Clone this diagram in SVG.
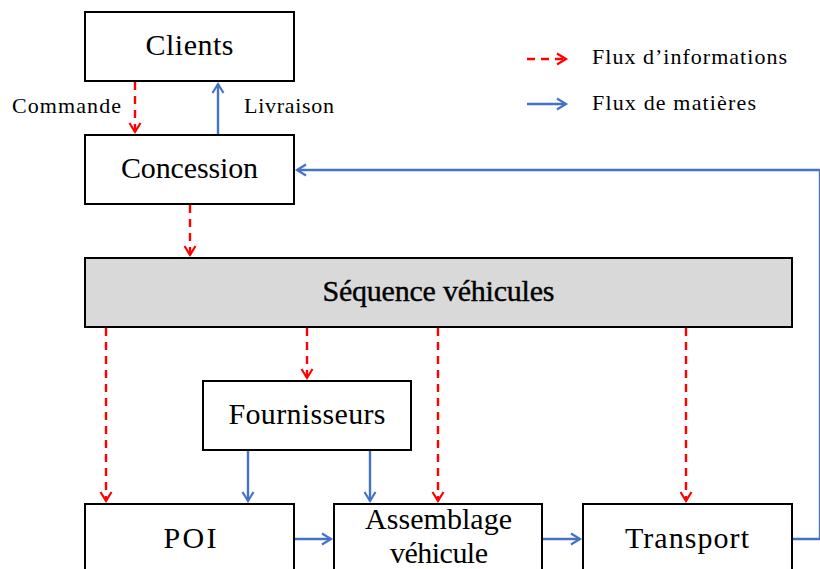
<svg xmlns="http://www.w3.org/2000/svg" width="820" height="569" viewBox="0 0 820 569">
<defs>
<style>
.box{fill:#fff;stroke:#000;stroke-width:2}
.seq{fill:#d9d9d9;stroke:#000;stroke-width:2}
.t{font-family:"Liberation Serif","DejaVu Serif",serif;font-size:30px;fill:#000;text-anchor:middle}
.s{font-family:"Liberation Serif","DejaVu Serif",serif;font-size:22px;fill:#000}
.info{fill:none;stroke:#ff0000;stroke-width:2.4;stroke-dasharray:8,6}
.mat{fill:none;stroke:#4472c4;stroke-width:2.4}
</style>
<marker id="ar" markerWidth="14" markerHeight="14" refX="11" refY="7" orient="auto" markerUnits="userSpaceOnUse">
<path d="M2,1.5 L11,7 L2,12.5" fill="none" stroke="#ff0000" stroke-width="2.2"/>
</marker>
<marker id="ab" markerWidth="14" markerHeight="14" refX="11" refY="7" orient="auto" markerUnits="userSpaceOnUse">
<path d="M2,1.5 L11,7 L2,12.5" fill="none" stroke="#4472c4" stroke-width="2.2"/>
</marker>
</defs>
<rect width="820" height="569" fill="#fff"/>
<g id="connectors">
<path class="info" d="M135,82 V132" marker-end="url(#ar)"/>
<path class="mat" d="M218,135 V84" marker-end="url(#ab)"/>
<path class="info" d="M190,205 V255" marker-end="url(#ar)"/>
<path class="info" d="M106,328 V501" marker-end="url(#ar)"/>
<path class="info" d="M307,328 V378" marker-end="url(#ar)"/>
<path class="info" d="M438,328 V501" marker-end="url(#ar)"/>
<path class="info" d="M686,328 V501" marker-end="url(#ar)"/>
<path class="mat" d="M248,451 V501" marker-end="url(#ab)"/>
<path class="mat" d="M370,451 V501" marker-end="url(#ab)"/>
<path class="mat" d="M295,539 H331" marker-end="url(#ab)"/>
<path class="mat" d="M543,539 H580" marker-end="url(#ab)"/>
<path class="mat" d="M793,539 H820 V170 H297" marker-end="url(#ab)"/>
</g>
<g id="clients"><rect class="box" x="85" y="12" width="209" height="69"/><text class="t" x="189.5" y="55" textLength="88" lengthAdjust="spacing">Clients</text></g>
<g id="concession"><rect class="box" x="85" y="135" width="209" height="69"/><text class="t" x="189.5" y="178" textLength="137" lengthAdjust="spacing">Concession</text></g>
<g id="sequence"><rect class="seq" x="85" y="258" width="707" height="69"/><text class="t" x="438.5" y="301" textLength="232" lengthAdjust="spacing" style="stroke:#000;stroke-width:0.4">Séquence véhicules</text></g>
<g id="fournisseurs"><rect class="box" x="203" y="381" width="208" height="69"/><text class="t" x="307" y="424" textLength="157" lengthAdjust="spacing">Fournisseurs</text></g>
<g id="poi"><rect class="box" x="85" y="504" width="209" height="69"/><text class="t" x="190" y="548" textLength="53" lengthAdjust="spacing">POI</text></g>
<g id="assemblage"><rect class="box" x="334" y="504" width="208" height="69"/><text class="t" x="438.5" y="529" textLength="147" lengthAdjust="spacing">Assemblage</text><text class="t" x="439" y="563" textLength="98" lengthAdjust="spacing">véhicule</text></g>
<g id="transport"><rect class="box" x="583" y="504" width="209" height="69"/><text class="t" x="687" y="548" textLength="124" lengthAdjust="spacing">Transport</text></g>
<g id="labels">
<text class="s" x="12" y="113" textLength="109" lengthAdjust="spacing">Commande</text>
<text class="s" x="244" y="113" textLength="90" lengthAdjust="spacing">Livraison</text>
</g>
<g id="legend">
<path class="info" d="M527,59 H566" marker-end="url(#ar)"/>
<path class="mat" d="M527,104 H566" marker-end="url(#ab)"/>
<text class="s" x="592" y="64" textLength="195" lengthAdjust="spacing">Flux d’informations</text>
<text class="s" x="592" y="110" textLength="164" lengthAdjust="spacing">Flux de matières</text>
</g>
</svg>
